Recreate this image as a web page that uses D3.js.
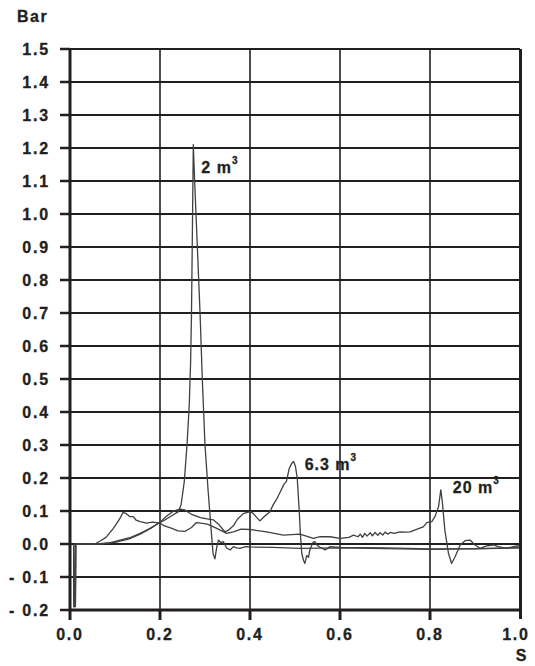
<!DOCTYPE html>
<html>
<head>
<meta charset="utf-8">
<script src="https://cdn.jsdelivr.net/npm/d3@7"></script>
<style>
  body { margin: 0; background: #fff; }
  svg text { font-family: "Liberation Sans", Arial, sans-serif; font-weight: bold; fill: #231f20; stroke: #231f20; stroke-width: 0.3px; }
</style>
</head>
<body>
<svg id="chart" width="535" height="666"></svg>
<script>
// Achsen
const xTicks = [0, 0.2, 0.4, 0.6, 0.8, 1.0];
const xTickLabels = ["0.0", "0.2", "0.4", "0.6", "0.8", "1.0"];
const yTicks = [1.5, 1.4, 1.3, 1.2, 1.1, 1.0, 0.9, 0.8, 0.7, 0.6, 0.5, 0.4, 0.3, 0.2, 0.1, 0.0, -0.1, -0.2];
const yTickLabels = ["1.5", "1.4", "1.3", "1.2", "1.1", "1.0", "0.9", "0.8", "0.7", "0.6", "0.5", "0.4", "0.3", "0.2", "0.1", "0.0", "- 0.1", "- 0.2"];
const yTitle = "Bar";
const xTitle = "S";

// Druckverlauf [s, bar] je Volumen
const series2 = [
  [0.008, 0], [0.009, -0.19], [0.012, -0.18], [0.013, 0], [0.06, 0], [0.09, 0.004], [0.111, 0.012],
  [0.135, 0.02], [0.156, 0.032], [0.175, 0.045], [0.193, 0.06], [0.21, 0.072], [0.225, 0.085],
  [0.241, 0.098], [0.247, 0.12], [0.254, 0.19], [0.26, 0.3], [0.265, 0.42], [0.268, 0.55],
  [0.270, 0.7], [0.272, 0.95], [0.274, 1.21], [0.277, 1.1], [0.280, 1.0], [0.283, 0.9],
  [0.289, 0.7], [0.294, 0.5], [0.300, 0.3], [0.305, 0.2], [0.307, 0.16], [0.311, 0.09],
  [0.315, 0.02], [0.318, -0.03], [0.322, -0.045], [0.326, -0.01], [0.33, 0.012], [0.335, 0.004],
  [0.341, 0.007], [0.348, -0.012], [0.356, -0.018], [0.363, -0.008], [0.37, -0.012], [0.378, -0.013],
  [0.39, -0.008], [0.4, -0.009], [0.45, -0.01], [0.511, -0.013], [0.6, -0.012], [0.7, -0.014],
  [0.8, -0.016], [0.9, -0.014], [1.0, -0.011]
];
const series63 = [
  [0.008, 0], [0.009, -0.19], [0.011, -0.19], [0.012, 0], [0.07, 0], [0.1, 0.005], [0.13, 0.015],
  [0.156, 0.03], [0.18, 0.048], [0.2, 0.066], [0.215, 0.085], [0.23, 0.1], [0.244, 0.106],
  [0.255, 0.103], [0.27, 0.09], [0.29, 0.08], [0.305, 0.076], [0.319, 0.073], [0.33, 0.06],
  [0.344, 0.037], [0.352, 0.042], [0.363, 0.055], [0.372, 0.075], [0.385, 0.092], [0.4, 0.098],
  [0.407, 0.093], [0.415, 0.08], [0.422, 0.07], [0.433, 0.085], [0.444, 0.097], [0.452, 0.12],
  [0.459, 0.135], [0.468, 0.16], [0.475, 0.18], [0.481, 0.19], [0.487, 0.228], [0.493, 0.245],
  [0.497, 0.25], [0.501, 0.235], [0.505, 0.2], [0.509, 0.11], [0.512, 0.03], [0.515, -0.028],
  [0.519, -0.05], [0.522, -0.059], [0.526, -0.035], [0.53, -0.04], [0.533, -0.018], [0.54, 0.005],
  [0.544, 0.007], [0.55, -0.005], [0.556, -0.01], [0.567, -0.018], [0.578, -0.008], [0.6, -0.01],
  [0.7, -0.012], [0.8, -0.015], [0.9, -0.015], [1.0, -0.012]
];
const series20 = [
  [0.008, 0], [0.009, -0.19], [0.012, -0.19], [0.013, 0], [0.055, 0], [0.067, 0.009], [0.08, 0.02],
  [0.095, 0.045], [0.105, 0.065], [0.112, 0.08], [0.118, 0.096], [0.125, 0.092], [0.133, 0.083],
  [0.141, 0.083], [0.147, 0.072], [0.156, 0.068], [0.17, 0.063], [0.183, 0.066], [0.193, 0.065],
  [0.2, 0.063], [0.21, 0.055], [0.225, 0.048], [0.24, 0.04], [0.255, 0.038], [0.27, 0.05],
  [0.281, 0.065], [0.29, 0.063], [0.305, 0.06], [0.319, 0.052], [0.334, 0.042], [0.348, 0.032],
  [0.363, 0.037], [0.38, 0.045], [0.4, 0.044], [0.437, 0.037], [0.474, 0.027], [0.511, 0.03],
  [0.541, 0.017], [0.556, 0.022], [0.578, 0.022], [0.6, 0.017], [0.62, 0.02], [0.63, 0.027],
  [0.64, 0.022], [0.645, 0.03], [0.65, 0.02], [0.655, 0.032], [0.66, 0.024], [0.667, 0.034],
  [0.672, 0.025], [0.678, 0.035], [0.684, 0.026], [0.689, 0.034], [0.695, 0.027], [0.70, 0.036],
  [0.706, 0.03], [0.712, 0.035], [0.72, 0.032], [0.733, 0.037], [0.745, 0.036], [0.756, 0.037],
  [0.77, 0.044], [0.785, 0.052], [0.793, 0.065], [0.804, 0.068], [0.811, 0.083], [0.819, 0.113],
  [0.824, 0.164], [0.827, 0.133], [0.833, 0.042], [0.841, -0.028], [0.848, -0.059], [0.856, -0.038],
  [0.867, -0.003], [0.878, 0.01], [0.889, 0.012], [0.9, -0.003], [0.911, -0.013], [0.926, -0.006],
  [0.941, -0.003], [0.952, -0.008], [0.97, -0.013], [0.993, -0.006], [1.0, -0.006]
];
const seriesNames = ["2 m", "6.3 m", "20 m"];
const seriesPeaks = [[0.274, 1.21], [0.497, 0.25], [0.824, 0.164]];

const svg = d3.select("#chart");
const x = d3.scaleLinear().domain([0, 1]).range([70, 520]);
const y = d3.scaleLinear().domain([-0.2, 1.5]).range([610, 49]);
const ink = "#231f20";

// Horizontale Gitterlinien
svg.append("g").selectAll("line")
  .data(yTicks.filter(v => v > -0.2))
  .enter().append("line")
  .attr("x1", x(0)).attr("x2", x(1))
  .attr("y1", d => y(d)).attr("y2", d => y(d))
  .attr("stroke", ink).attr("stroke-width", 2);

// Vertikale Gitterlinien
svg.append("g").selectAll("line")
  .data(xTicks.slice(1, -1))
  .enter().append("line")
  .attr("x1", d => x(d)).attr("x2", d => x(d))
  .attr("y1", y(1.5)).attr("y2", y(-0.2))
  .attr("stroke", ink).attr("stroke-width", 1.6);

// Kurven
const line = d3.line().x(d => x(d[0])).y(d => y(d[1]));
[series20, series63, series2].forEach(s => {
  svg.append("path")
    .attr("d", line(s))
    .attr("fill", "none")
    .attr("stroke", "#404040")
    .attr("stroke-width", 1.3)
    .attr("stroke-linejoin", "round");
});

// Rahmen
svg.append("line").attr("x1", x(0)).attr("x2", x(0)).attr("y1", y(1.5)).attr("y2", y(-0.2) + 10)
  .attr("stroke", ink).attr("stroke-width", 3);
svg.append("line").attr("x1", x(1) + 0.5).attr("x2", x(1) + 0.5).attr("y1", y(1.5)).attr("y2", y(-0.2) + 9)
  .attr("stroke", ink).attr("stroke-width", 3);
svg.append("line").attr("x1", x(0)).attr("x2", x(1)).attr("y1", y(-0.2)).attr("y2", y(-0.2))
  .attr("stroke", ink).attr("stroke-width", 3);

// Ticks
svg.append("g").selectAll("line")
  .data(yTicks)
  .enter().append("line")
  .attr("x1", x(0) - 10).attr("x2", x(0))
  .attr("y1", d => y(d)).attr("y2", d => y(d))
  .attr("stroke", ink).attr("stroke-width", 2.5);
svg.append("g").selectAll("line")
  .data(xTicks.slice(1, -1))
  .enter().append("line")
  .attr("x1", d => x(d)).attr("x2", d => x(d))
  .attr("y1", y(-0.2)).attr("y2", y(-0.2) + 10)
  .attr("stroke", ink).attr("stroke-width", 3);

// Beschriftung
svg.append("g").selectAll("text")
  .data(yTicks)
  .enter().append("text")
  .attr("x", 50)
  .attr("y", (d, i) => y(d) + 6)
  .attr("text-anchor", "end")
  .style("font-size", "16px")
  .style("letter-spacing", "1.8px")
  .text((d, i) => yTickLabels[i]);

svg.append("g").selectAll("text")
  .data(xTicks)
  .enter().append("text")
  .attr("x", (d, i) => x(d) + (i === xTicks.length - 1 ? -4 : 0))
  .attr("y", 640)
  .attr("text-anchor", "middle")
  .style("font-size", "16px")
  .style("letter-spacing", "1.8px")
  .text((d, i) => xTickLabels[i]);

svg.append("text").attr("x", 17).attr("y", 22)
  .style("font-size", "16px").style("letter-spacing", "1.5px").text(yTitle);
svg.append("text").attr("x", 521).attr("y", 661).attr("text-anchor", "middle")
  .style("font-size", "16px").text(xTitle);

// Volumen-Labels
const labelOffsets = [[8, 28], [11, 8], [12, 3]];
seriesNames.forEach((name, i) => {
  const [px, py] = seriesPeaks[i];
  const t = svg.append("text")
    .attr("x", x(px) + labelOffsets[i][0])
    .attr("y", y(py) + labelOffsets[i][1])
    .style("font-size", "16px")
    .style("letter-spacing", "1px");
  t.append("tspan").text(name);
  t.append("tspan").attr("dy", -9).style("font-size", "10px").text("3");
});
</script>
</body>
</html>
